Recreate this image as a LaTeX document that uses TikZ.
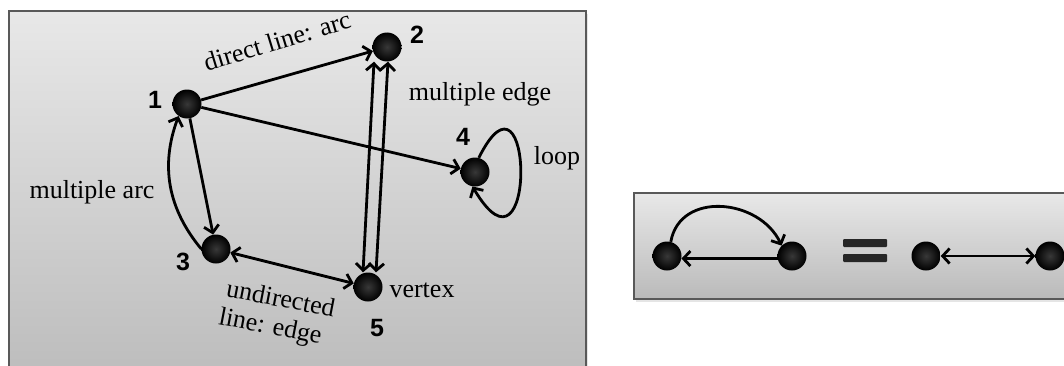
\documentclass[tikz,border=0pt]{standalone}
\usepackage{fontspec}
\setmainfont{Liberation Serif}
\newfontfamily\numfont{Liberation Sans}
\usetikzlibrary{arrows.meta,shadows}

\begin{document}
\begin{tikzpicture}[x=1pt,y=1pt,
  vtx/.style={circle,minimum size=29pt,inner sep=0pt,inner color=black!78,outer color=black},
  num/.style={font=\numfont\bfseries\fontsize{25}{25}\selectfont,inner sep=0pt},
  lbl/.style={font=\fontsize{26}{31}\selectfont,inner sep=0pt},
  darc/.style={line width=2.8pt,-{Straight Barb[length=7pt,width=15pt]}},
  uedge/.style={line width=2.8pt,{Straight Barb[length=7pt,width=15pt]}-{Straight Barb[length=7pt,width=15pt]}},
  panel/.style={draw=black!65,line width=2pt,top color=black!9,bottom color=black!27,
    drop shadow={opacity=0.2,shadow xshift=2pt,shadow yshift=-3pt}}]

% Canvas
\useasboundingbox (0,0) rectangle (1064,365);
\clip (0,0) rectangle (1064,365);
\fill[white] (0,0) rectangle (1064,365);

% Panels
\draw[panel] (9,-30) rectangle (586,354);
\draw[panel] (634,66) rectangle (1100,172);

% Left panel: vertices
\node[vtx] (v1) at (187,261) {};
\node[vtx] (v2) at (387,318) {};
\node[vtx] (v3) at (216,116) {};
\node[vtx] (v4) at (475,193) {};
\node[vtx] (v5) at (368,78) {};

% Vertex numbers
\node[num] (l1) at (155,265) {1};
\node[num] (l2) at (417,330) {2};
\node[num] (l3) at (183,103) {3};
\node[num] (l4) at (463,228) {4};
\node[num] (l5) at (377,37) {5};

% Arcs
\draw[darc] (v1) -- (v2);
\draw[darc] (v1) -- (v4);
\draw[darc] (v1) -- (v3);
\draw[darc] (v3.west) to[bend left=30] (v1.-125);

% Edges
\draw[uedge] (v3) -- (v5);
\draw[uedge] ([xshift=-13pt]v2.south) -- ([xshift=-5pt]v5.north);
\draw[uedge] ([xshift=1pt]v2.south) -- ([xshift=8pt]v5.north);

% Loop
\draw[darc] (v4.75) .. controls +(55,110) and +(65,-110) .. (v4.-100);

% Labels
\node[lbl,rotate=17] (tarc) at (277,324) {direct line: arc};
\node[lbl] (tmedge) at (480,271) {multiple edge};
\node[lbl] (tloop) at (557,207) {loop};
\node[lbl] (tmarc) at (92,173) {multiple arc};
\node[lbl] (tvertex) at (422,75) {vertex};
\node[lbl,rotate=-11] (tund) at (281,67) {undirected};
\node[lbl,rotate=-11] (tline) at (270,37) {line: edge};

% Right panel: two opposite arcs = one edge
\node[vtx] (a1) at (667,109) {};
\node[vtx] (a2) at (792,109) {};
\node[vtx] (b1) at (926,109) {};
\node[vtx] (b2) at (1050,109) {};

\draw[darc] (a1.75) to[out=80,in=115,looseness=1.2] (a2.135);
\draw[darc] (a2.-170) -- (a1.-10);
\draw[uedge] (b1) -- (b2);

% Equals sign
\fill[black!85,rounded corners=1pt] (843,118) rectangle (887,126);
\fill[black!85,rounded corners=1pt] (843,103) rectangle (887,111);

\end{tikzpicture}
\end{document}
